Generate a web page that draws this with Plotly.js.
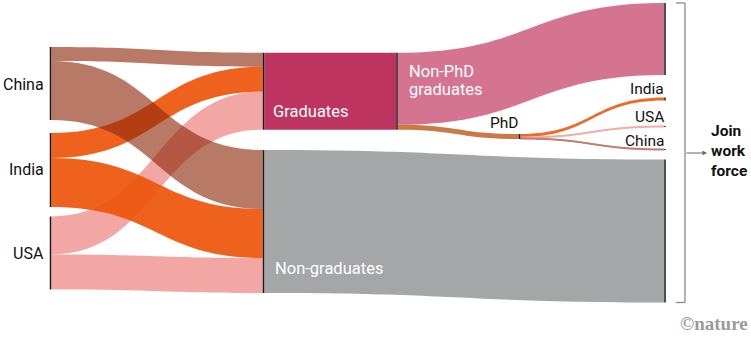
<!DOCTYPE html>
<html>
<head>
<meta charset="utf-8">
<script src="https://cdn.plot.ly/plotly-3.0.1.min.js"></script>
<style>
  html, body { margin: 0; padding: 0; background: #fff; }
  #chart { width: 751px; height: 342px; }
</style>
</head>
<body>
<div id="chart"></div>
<script>
// ---------------- DATA ----------------
const nodeNames = ['China', 'India', 'USA', 'Graduates', 'Non-graduates', 'Graduates',
                   'Join work force (non-graduates)', 'PhD', 'Non-PhD graduates',
                   'India (PhD)', 'USA (PhD)', 'China (PhD)'];
// links listed USA, India, China first so China's flows are drawn on top
const linkSource = [2, 2, 1, 1, 0, 0, 3, 4, 5, 5, 7, 7, 7];
const linkTarget = [3, 4, 3, 4, 3, 4, 5, 6, 8, 7, 9, 10, 11];
const linkValue  = [38, 35, 25, 49, 14, 59, 77, 143, 72, 5, 3, 1, 1];

// ---------------- STYLE / LAYOUT ----------------
const W = 751, H = 342;
// node centres (pixels) for a fixed arrangement
const nodeXpx = [50.5, 50.5, 50.5, 263.5, 263.5, 397, 665, 519.5, 665, 665, 665, 665];
const nodeYpx = [83.5, 170, 253, 91.2, 221.5, 91.2, 231, 136.5, 39, 99, 126.5, 149.5];

const linkColors = [
  'rgba(238,130,125,0.7)', 'rgba(238,130,125,0.7)',
  'rgba(238,85,10,0.92)', 'rgba(238,85,10,0.92)',
  'rgba(140,40,10,0.62)', 'rgba(140,40,10,0.62)',
  '#be3461', '#a5a6a8', '#d57491', '#c97a45',
  '#ee6a2a', '#f2aaa4', '#bb7d6d'
];

const trace = {
  type: 'sankey',
  arrangement: 'fixed',
  domain: {x: [0, 1], y: [0, 1]},
  hoverinfo: 'none',
  node: {
    label: nodeNames.map(() => ''),
    customdata: nodeNames,
    x: nodeXpx.map(v => v / W),
    y: nodeYpx.map(v => v / H),
    pad: (H - linkValue[6] - linkValue[7]) / 4,
    thickness: 1.5,
    color: '#1a1a1a',
    line: {width: 0},
    hoverinfo: 'none'
  },
  link: {
    source: linkSource,
    target: linkTarget,
    value: linkValue,
    color: linkColors,
    line: {width: 0},
    hoverinfo: 'none'
  }
};

const FONT = 'Roboto, "Open Sans", sans-serif';
function ann(text, xpx, ypx, xanchor, color, size, extra) {
  return Object.assign({
    text: text, xref: 'paper', yref: 'paper',
    x: xpx / W, y: 1 - ypx / H,
    xanchor: xanchor, yanchor: 'middle', showarrow: false,
    font: {family: FONT, size: size, color: color}
  }, extra || {});
}

const annotations = [
  ann('China', 46, 85, 'right', '#111', 16),
  ann('India', 46, 170, 'right', '#111', 16),
  ann('USA', 46, 253, 'right', '#111', 16),
  ann('Graduates', 271, 111, 'left', '#ffffff', 16.5),
  ann('Non-PhD', 407, 71, 'left', '#ffffff', 16.5),
  ann('graduates', 407, 89, 'left', '#ffffff', 16.5),
  ann('Non-graduates', 273, 268, 'left', '#ffffff', 16.5),
  ann('PhD', 504, 123, 'center', '#111', 15.5),
  ann('India', 666, 89, 'right', '#111', 15.5),
  ann('USA', 666, 117, 'right', '#111', 15.5),
  ann('China', 666, 141, 'right', '#111', 15.5),
  ann('<b>Join</b>', 709, 131, 'left', '#111', 15.5),
  ann('<b>work</b>', 709, 151, 'left', '#111', 15.5),
  ann('<b>force</b>', 709, 171, 'left', '#111', 15.5),
  ann('<b>©nature</b>', 750, 323, 'right', '#9a9a9a', 18,
      {font: {family: '"Liberation Serif", "DejaVu Serif", serif', size: 19, color: '#9a9a9a'}}),
  // arrow from bracket
  {xref: 'paper', yref: 'paper', x: 707 / W, y: 1 - 153 / H, ax: -22, ay: 0,
   text: '', showarrow: true, arrowhead: 2, arrowsize: 0.9, arrowwidth: 1, arrowcolor: '#666'}
];

const shapes = [
  {type: 'line', xref: 'paper', yref: 'paper', x0: 685 / W, x1: 685 / W, y0: 1 - 3 / H, y1: 1 - 302.5 / H,
   line: {color: '#8a8a8a', width: 1.3}},
  {type: 'line', xref: 'paper', yref: 'paper', x0: 676 / W, x1: 685 / W, y0: 1 - 3 / H, y1: 1 - 3 / H,
   line: {color: '#8a8a8a', width: 1.3}},
  {type: 'line', xref: 'paper', yref: 'paper', x0: 676 / W, x1: 685 / W, y0: 1 - 302.5 / H, y1: 1 - 302.5 / H,
   line: {color: '#8a8a8a', width: 1.3}}
];

const layout = {
  width: W, height: H,
  margin: {l: 0, r: 0, t: 0, b: 0, pad: 0},
  paper_bgcolor: '#ffffff',
  plot_bgcolor: '#ffffff',
  font: {family: FONT, size: 16, color: '#111'},
  showlegend: false,
  annotations: annotations,
  shapes: shapes
};

Plotly.newPlot('chart', [trace], layout, {displayModeBar: false, staticPlot: true});
</script>
</body>
</html>
